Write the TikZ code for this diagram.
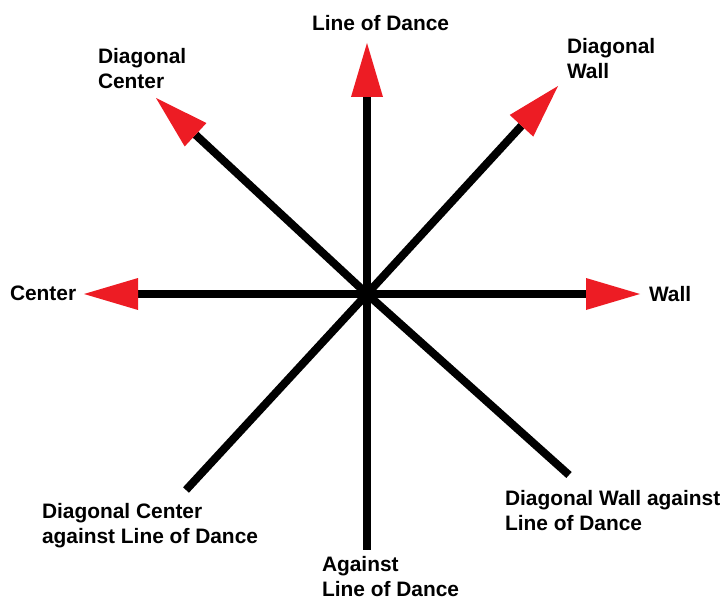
\documentclass[tikz,border=0pt]{standalone}
\usepackage{fontspec}
\setmainfont{Liberation Sans}
\usetikzlibrary{arrows.meta}
\definecolor{arrred}{HTML}{ED1C24}
\tikzset{
  spoke/.style={line width=8pt, black},
  redtip/.style={-{Triangle[length=54pt,width=32pt,line width=0pt,fill=arrred,color=arrred]}},
  lbl/.style={inner sep=0pt, outer sep=0pt, anchor=base west, align=left,
    font=\fontsize{20.9}{25}\selectfont\bfseries}
}
\begin{document}
\begin{tikzpicture}[x=1pt,y=-1pt]
\useasboundingbox (0,0) rectangle (727,601);
\coordinate (c) at (367,294);
\coordinate (n) at (367,43);
\coordinate (w) at (84,294);
\coordinate (e) at (640,294);
\coordinate (nw) at (156,98);
\coordinate (ne) at (558,86);
\coordinate (s) at (367,550);
\coordinate (sw) at (186,490);
\coordinate (se) at (569,475);
\draw[spoke] (c) -- (s);
\draw[spoke] (c) -- (sw);
\draw[spoke] (c) -- (se);
\draw[spoke,redtip] (c) -- (n);
\draw[spoke,redtip] (c) -- (w);
\draw[spoke,redtip] (c) -- (e);
\draw[spoke,redtip] (c) -- (nw);
\draw[spoke,redtip] (c) -- (ne);
\node[lbl] (ln) at (312,31) {Line of Dance};
\node[lbl] (lnw) at (98,89) {Diagonal\\Center};
\node[lbl] (lne) at (567,79) {Diagonal\\Wall};
\node[lbl] (lw) at (10,300) {Center};
\node[lbl] (le) at (649,301) {Wall};
\node[lbl] (lsw) at (42,543) {Diagonal Center\\against Line of Dance};
\node[lbl] (lse) at (505,530) {Diagonal Wall against\\Line of Dance};
\node[lbl] (ls) at (322,596) {Against\\Line of Dance};
\end{tikzpicture}
\end{document}
